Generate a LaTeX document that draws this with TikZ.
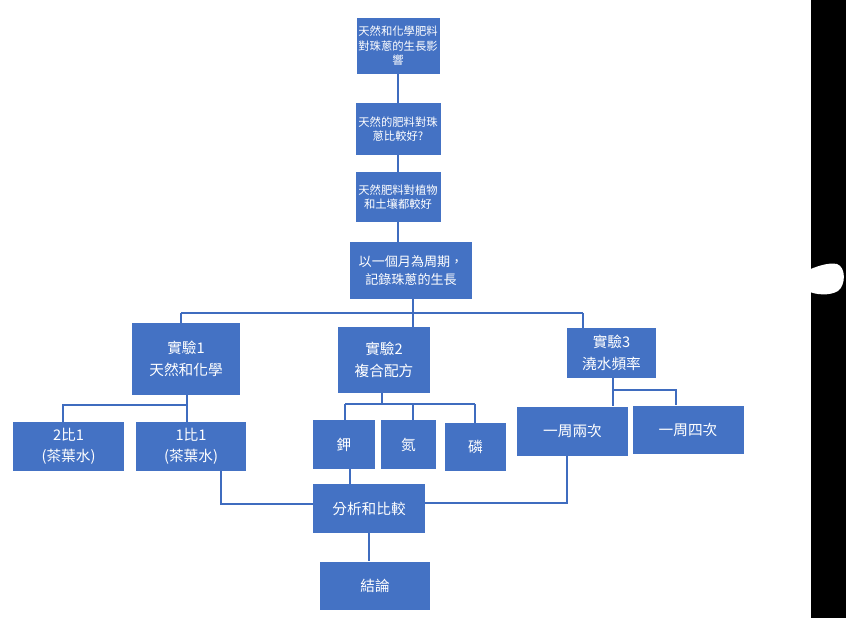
\documentclass[tikz,border=0pt]{standalone}
\usepackage{fontspec}
\newfontfamily\cjk{Noto Sans CJK TC}
\definecolor{boxblue}{HTML}{4472C4}
\definecolor{lineblue}{HTML}{3F6CBF}
\tikzset{
  box/.style={draw=none, fill=boxblue, text=white, align=center, inner sep=0pt, font=\cjk},
  small/.style={font=\cjk\fontsize{8.5}{10.8}\selectfont},
  mid/.style={font=\cjk\fontsize{9.8}{13}\selectfont},
  big/.style={font=\cjk\fontsize{11}{16}\selectfont},
  conn/.style={draw=lineblue, line width=1pt},
  wh/.style 2 args={minimum width=#1*0.75pt, minimum height=#2*0.75pt}
}
\begin{document}
\begin{tikzpicture}[x=0.75pt, y=-0.75pt]
\useasboundingbox (0,0) rectangle (846,618);
\fill[white] (0,0) rectangle (846,618);
% black bar with blob
\fill[black] (811,0) rectangle (846,618);
\fill[white] (806,271) .. controls (815,267) and (828,262) .. (837,264)
  .. controls (846,267) and (846,285) .. (838,291)
  .. controls (830,296) and (815,295) .. (808,291) -- cycle;

% top chain
\node[box, small, wh={83}{56}] (b1) at (398,46) {天然和化學肥料\\對珠蔥的生長影\\響};
\node[box, small, wh={85}{52}] (b2) at (398,129) {天然的肥料對珠\\蔥比較好?};
\node[box, small, wh={85}{50}] (b3) at (398,197) {天然肥料對植物\\和土壤都較好};
\node[box, mid, wh={122}{57}] (b4) at (411,270.5) {以一個月為周期，\\記錄珠蔥的生長};

% experiments
\node[box, big, wh={108}{72}] (e1) at (186,359) {實驗1\\天然和化學};
\node[box, big, wh={92}{66}] (e2) at (384,360) {實驗2\\複合配方};
\node[box, big, wh={89}{50}] (e3) at (611.5,353) {實驗3\\澆水頻率};

% leaves
\node[box, big, wh={111}{49}] (r21) at (68.5,446.5) {2比1\\(茶葉水)};
\node[box, big, wh={110}{49}] (r11) at (191,446.5) {1比1\\(茶葉水)};
\node[box, big, wh={62}{49}] (k) at (344,444.5) {鉀};
\node[box, big, wh={55}{49}] (n) at (408.5,444.5) {氮};
\node[box, big, wh={61}{48}] (p) at (475.5,447) {磷};
\node[box, big, wh={111}{49}] (w2) at (572.5,431) {一周兩次};
\node[box, big, wh={111}{48}] (w4) at (688,429.5) {一周四次};

% bottom
\node[box, big, wh={112}{49}] (an) at (369,508.5) {分析和比較};
\node[box, big, wh={110}{48}] (co) at (375,585.5) {結論};

% connector coordinates
\coordinate (j1) at (181,313);
\coordinate (j3) at (583,313);
\coordinate (k1) at (187,405);
\coordinate (k2) at (382,404);
\coordinate (k3) at (613,390);
\coordinate (k4) at (676,390);
\coordinate (a1) at (221,504);
\coordinate (a2) at (567,503);

% connectors
\draw[conn] (b1.south) -- (b2.north);
\draw[conn] (b2.south) -- (b3.north);
\draw[conn] (b3.south) -- (b3.south |- b4.north);
\draw[conn] ([xshift=1.5pt]b4.south) -- ([xshift=1.5pt]b4.south |- e2.north);
\draw[conn] (j1) -- (j3);
\draw[conn] (j1) -- (j1 |- e1.north);
\draw[conn] (j3) -- (j3 |- e3.north);

\draw[conn] (k1 |- e1.south) -- (k1) -| ([xshift=-4.1pt]r21.north);
\draw[conn] (k1) -- (k1 |- r11.north);

\draw[conn] (k2 |- e2.south) -- (k2);
\draw[conn] ([xshift=0.75pt]k.north |- k2) -- ([xshift=-0.4pt]p.north |- k2);
\draw[conn] ([xshift=0.75pt]k.north |- k2) -- ([xshift=0.75pt]k.north);
\draw[conn] ([xshift=3.4pt]n.north |- k2) -- ([xshift=3.4pt]n.north);
\draw[conn] ([xshift=-0.4pt]p.north |- k2) -- ([xshift=-0.4pt]p.north);

\draw[conn] (k3 |- e3.south) -- (k3 |- w2.north);
\draw[conn] (k3) -- (k4) -- (k4 |- w4.north);

\draw[conn] (a1 |- r11.south) -- (a1) -- (a1 -| an.west);
\draw[conn] (a2 |- w2.south) -- (a2) -- (a2 -| an.east);
\draw[conn] ([xshift=4.5pt]k.south) -- ([xshift=4.5pt]k.south |- an.north);
\draw[conn] (an.south) -- (an.south |- co.north);
\end{tikzpicture}
\end{document}
